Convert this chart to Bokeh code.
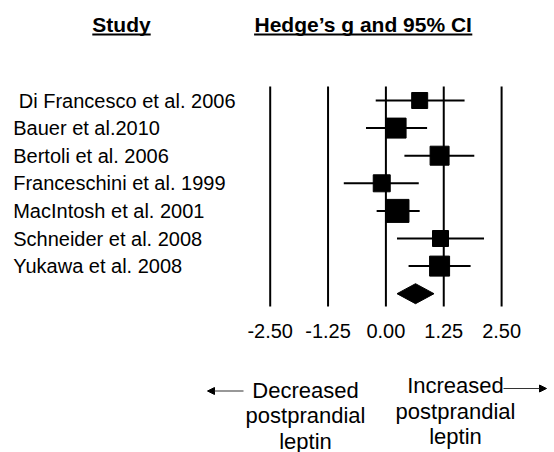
from bokeh.plotting import figure
from bokeh.models import Range1d, Arrow, NormalHead
from bokeh.core.properties import value
from bokeh.embed import file_html
from bokeh.resources import INLINE

# ---------------- data ----------------
studies = ["\u00a0Di Francesco et al. 2006", "Bauer et al.2010", "Bertoli et al. 2006",
           "Franceschini et al. 1999", "MacIntosh et al. 2001", "Schneider et al. 2008",
           "Yukawa et al. 2008"]
hedges_g = [0.73, 0.22, 1.16, -0.09, 0.25, 1.18, 1.16]
ci_lower = [-0.22, -0.43, 0.40, -0.91, -0.20, 0.24, 0.49]
ci_upper = [1.70, 0.89, 1.91, 0.71, 0.73, 2.12, 1.83]
weights = [16, 20, 19, 17, 23, 16, 20]
summary_g = 0.64
summary_lower = 0.24
summary_upper = 1.04
tick_values = [-2.5, -1.25, 0.0, 1.25, 2.5]
tick_labels = ["-2.50", "-1.25", "0.00", "1.25", "2.50"]
header_study = "Study"
header_effect = "Hedge\u2019s g and 95% CI"
left_lines = ["Decreased", "postprandial", "leptin"]
right_lines = ["Increased", "postprandial", "leptin"]

# ---------------- layout ----------------
W, H = 554, 452
PX_ZERO = 385.4        # canvas x of g = 0
PX_PER_UNIT = 46.28    # pixels per unit of g
ROW0, ROW_STEP = 100.0, 27.6
FONT = value("Liberation Sans")


def X(cx):
    return (cx - PX_ZERO) / PX_PER_UNIT


rows = [ROW0 + ROW_STEP * i for i in range(len(studies))]
y_sum = ROW0 + ROW_STEP * len(studies)

p = figure(width=W, height=H, output_backend="svg", toolbar_location=None,
           x_range=Range1d(X(0), X(W)), y_range=Range1d(H, 0),
           x_axis_location=None, y_axis_location=None, min_border=0,
           background_fill_color="white", border_fill_color="white")
p.outline_line_color = None
p.xgrid.grid_line_color = None
p.ygrid.grid_line_color = None

# vertical reference lines
p.segment(x0=tick_values, x1=tick_values, y0=[86] * len(tick_values), y1=[306] * len(tick_values),
          line_color="black", line_width=2)

# confidence intervals
p.segment(x0=ci_lower, x1=ci_upper, y0=rows, y1=rows, line_color="black", line_width=2)

# study markers
p.scatter(x=hedges_g, y=rows, marker="square", size=weights,
          fill_color="black", line_color="black")

# summary diamond
p.patch(x=[summary_lower, summary_g, summary_upper, summary_g],
        y=[y_sum, y_sum - 10, y_sum, y_sum + 10], fill_color="black", line_color="black")

# study labels
p.text(x=[X(12.7)] * len(studies), y=rows, text=studies, text_font=FONT,
       text_font_size="20px", text_align="left", text_baseline="middle", text_color="black")

# headers
p.text(x=[X(121), X(362.7)], y=[24, 24], text=[header_study, header_effect], text_font=FONT,
       text_font_size="21px", text_font_style="bold", text_align="center",
       text_baseline="middle", text_color="black")
p.segment(x0=[X(121 - 29.2), X(362.7 - 109.1)], x1=[X(121 + 29.2), X(362.7 + 109.1)],
          y0=[34, 34], y1=[34, 34], line_color="black", line_width=2)

# tick labels
p.text(x=tick_values, y=[330] * len(tick_values), text=tick_labels, text_font=FONT,
       text_font_size="20px", text_align="center", text_baseline="middle", text_color="black")

# direction texts
p.text(x=[X(305)] * 3, y=[389.5, 415, 440.5], text=left_lines, text_font=FONT,
       text_font_size="22px", text_align="center", text_baseline="middle", text_color="black")
p.text(x=[X(455)] * 3, y=[384.5, 410.5, 436], text=right_lines, text_font=FONT,
       text_font_size="22px", text_align="center", text_baseline="middle", text_color="black")

p.add_layout(Arrow(end=NormalHead(size=7, fill_color="black", line_color="black"),
                   x_start=X(243), y_start=390.5, x_end=X(207), y_end=390.5,
                   line_color="#333333", line_width=1.2))
p.add_layout(Arrow(end=NormalHead(size=7, fill_color="black", line_color="black"),
                   x_start=X(503), y_start=388, x_end=X(546), y_end=388,
                   line_color="#333333", line_width=1.2))

open("out.html", "w").write(file_html(p, INLINE))
